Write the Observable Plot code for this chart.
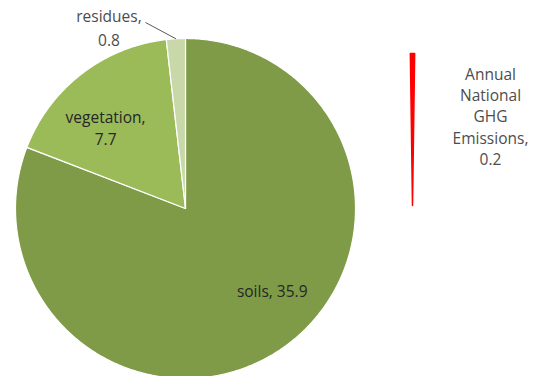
<!DOCTYPE html>
<html>
<head>
<meta charset="utf-8">
<script src="https://cdn.jsdelivr.net/npm/d3@7"></script>
<script src="https://cdn.jsdelivr.net/npm/@observablehq/plot@0.6"></script>
<style>
  html, body { margin: 0; padding: 0; background: #fff; }
  #chart { width: 535px; height: 376px; overflow: hidden; }
</style>
</head>
<body>
<div id="chart"></div>
<script>
// ---- data ----
const categories = ["soils", "vegetation", "residues"];
const values = [35.9, 7.7, 0.8];
const ghgCategory = "Annual National GHG Emissions";
const ghgValue = 0.2;
const colors = ["#7F9B48", "#9BBB59", "#C8D8A8"];
const ghgColor = "#FF0000";

// ---- layout (pixels) ----
const W = 535, H = 376;
const cx = 185, cy = 208, R = 170;           // main pie
const gcx = 412, gcy = 205, gR = 152;        // GHG wedge
// label positions relative to centers, in pie-radius units
const labelOffsets = {
  soils: [0.51, -0.48],
  vegetation: [-0.47, 0.48],
  residues: [-0.45, 1.07]
};

// unit coordinates: pie center (0,0), radius 1, y up
const xDomain = [-cx / R, (W - cx) / R];
const yDomain = [-(H - cy) / R, cy / R];

const arcs = d3.pie().sort(null).value(d => d)(values);
const total = d3.sum(values);

function wedge(key, a0, a1, ox = 0, oy = 0, r = 1) {
  const pts = [{key, x: ox, y: oy}];
  const n = Math.max(2, Math.ceil((a1 - a0) / (Math.PI / 360)));
  for (let i = 0; i <= n; i++) {
    const a = a0 + (a1 - a0) * i / n;
    pts.push({key, x: ox + r * Math.sin(a), y: oy + r * Math.cos(a)});
  }
  return pts;
}

const slicePts = arcs.flatMap((a, i) => wedge(categories[i], a.startAngle, a.endAngle));

// GHG wedge, same angular scale as the main pie, centred on vertical
const gAngle = ghgValue / total * 2 * Math.PI;
const gox = (gcx - cx) / R, goy = -(gcy - cy) / R, gr = gR / R;
const ghgPts = wedge(ghgCategory, -gAngle / 2, gAngle / 2, gox, goy, gr);

const labels = arcs.map((a, i) => ({
  key: categories[i],
  text: categories[i] + ",\n" + values[i],
  x: labelOffsets[categories[i]][0],
  y: labelOffsets[categories[i]][1]
}));
labels[0].text = categories[0] + ", " + values[0];

// residues leader line: from arc edge at mid-angle to label
const resArc = arcs[2];
const resMid = (resArc.startAngle + resArc.endAngle) / 2;
const leader = [{
  x1: Math.sin(resMid), y1: Math.cos(resMid),
  x2: (145 - cx) / R, y2: -(22 - cy) / R
}];

const ghgLabel = [{
  text: "Annual\nNational\nGHG\nEmissions,\n" + ghgValue,
  x: (490 - cx) / R, y: -(115 - cy) / R
}];

const font = "'Open Sans', 'Noto Sans', sans-serif";

const chart = Plot.plot({
  width: W, height: H,
  margin: 0,
  x: {domain: xDomain, axis: null},
  y: {domain: yDomain, axis: null},
  color: {domain: [...categories, ghgCategory], range: [...colors, ghgColor]},
  style: {fontFamily: font, background: "#fff"},
  marks: [
    Plot.line(slicePts, {x: "x", y: "y", z: "key", fill: "key", stroke: "#fff", strokeWidth: 1.2, curve: "linear-closed"}),
    Plot.line(ghgPts, {x: "x", y: "y", z: "key", fill: "key", stroke: "key", strokeWidth: 1.5, curve: "linear-closed"}),
    Plot.link(leader, {x1: "x1", y1: "y1", x2: "x2", y2: "y2", stroke: "#595959", strokeWidth: 1}),
    Plot.text(labels.filter(d => d.key !== "residues"), {x: "x", y: "y", text: "text", fontSize: 15.5, fill: "#262626", lineHeight: 1.4}),
    Plot.text(labels.filter(d => d.key === "residues"), {x: "x", y: "y", text: "text", fontSize: 15.5, fill: "#4d4d4d", lineHeight: 1.55}),
    Plot.text(ghgLabel, {x: "x", y: "y", text: "text", fontSize: 15.5, fill: "#4d4d4d", lineHeight: 1.38})
  ]
});
document.getElementById("chart").appendChild(chart);
</script>
</body>
</html>
